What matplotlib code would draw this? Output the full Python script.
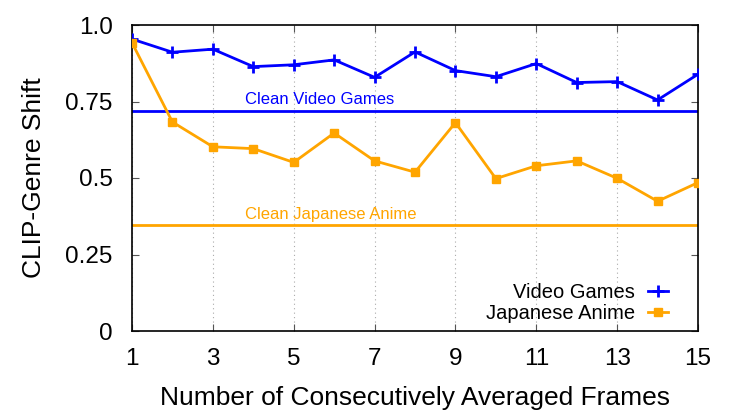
import matplotlib
matplotlib.use("Agg")
import matplotlib.pyplot as plt

plt.rcParams['font.family'] = ['Liberation Sans', 'DejaVu Sans']

frames = list(range(1, 16))
video_games = [0.954, 0.911, 0.921, 0.864, 0.870, 0.886, 0.829, 0.912,
               0.851, 0.831, 0.874, 0.812, 0.815, 0.755, 0.839]
japanese_anime = [0.942, 0.683, 0.602, 0.596, 0.551, 0.647, 0.556, 0.519,
                  0.681, 0.498, 0.540, 0.556, 0.499, 0.424, 0.485]
clean_video_games = 0.720
clean_japanese_anime = 0.346
x_ticks = [1, 3, 5, 7, 9, 11, 13, 15]
y_ticks = [0, 0.25, 0.5, 0.75, 1.0]
y_tick_labels = ['0', '0.25', '0.5', '0.75', '1.0']

blue = '#0000FF'
orange = '#FFA500'

fig = plt.figure(figsize=(7.47, 4.17), dpi=100)
ax = fig.add_axes([132/747, 1-331/417, (698-132)/747, (331-25)/417])

ax.axhline(clean_video_games, color=blue, lw=2, zorder=2)
ax.axhline(clean_japanese_anime, color=orange, lw=2, zorder=2)
ax.text(5.63, clean_video_games + 0.021, 'Clean Video Games', color=blue,
        fontsize=12, ha='center', va='baseline')
ax.text(5.92, clean_japanese_anime + 0.021, 'Clean Japanese Anime', color=orange,
        fontsize=12, ha='center', va='baseline')

ax.plot(frames, video_games, color=blue, lw=2, marker='+', markersize=8,
        markeredgewidth=2, label='Video Games', zorder=3)
ax.plot(frames, japanese_anime, color=orange, lw=2, marker='s', markersize=6,
        label='Japanese Anime', zorder=3)

ax.set_xlim(1, 15)
ax.set_ylim(0, 1.0)
ax.set_xticks(x_ticks)
ax.set_xticklabels([str(v) for v in x_ticks])
ax.set_yticks(y_ticks)
ax.set_yticklabels(y_tick_labels)
ax.tick_params(direction='in', top=True, right=True, labelsize=17.5, length=5,
               color='#555555')
ax.tick_params(axis='y', pad=14)
ax.tick_params(axis='x', pad=12)
ax.grid(axis='x', linestyle=(0, (1, 3)), color='#aaaaaa', lw=0.8)
for s in ax.spines.values():
    s.set_linewidth(1.2)

ax.set_xlabel('Number of Consecutively Averaged Frames', fontsize=19, labelpad=12)
ax.set_ylabel('CLIP-Genre Shift', fontsize=19, labelpad=14)

ax.legend(loc='lower right', frameon=False, markerfirst=False, fontsize=14.5,
          handlelength=1.0, handletextpad=0.65, labelspacing=0.1,
          borderaxespad=0.0, bbox_to_anchor=(0.962, 0.0))

fig.savefig('out.png', dpi=100)
